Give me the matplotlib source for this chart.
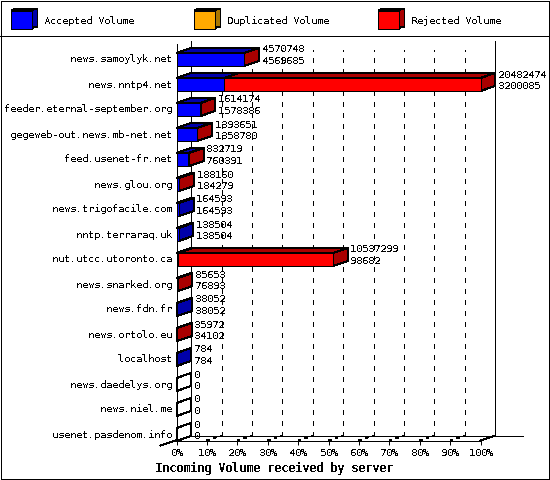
import matplotlib
matplotlib.use("Agg")
import matplotlib.pyplot as plt
from matplotlib.patches import Polygon, Rectangle
from matplotlib.transforms import ScaledTranslation

servers = ["news.samoylyk.net", "news.nntp4.net", "feeder.eternal-september.org",
           "gegeweb-out.news.mb-net.net", "feed.usenet-fr.net", "news.glou.org",
           "news.trigofacile.com", "nntp.terraraq.uk", "nut.utcc.utoronto.ca",
           "news.snarked.org", "news.fdn.fr", "news.ortolo.eu", "localhost",
           "news.daedelys.org", "news.niel.me", "usenet.pasdenom.info"]
total = [4570748, 20482474, 1614174, 1393651, 832719, 188160, 164593, 138504,
         10537299, 85653, 38052, 35972, 784, 0, 0, 0]
accepted = [4569685, 3200085, 1578386, 1358780, 760391, 184279, 164593, 138504,
            98682, 76893, 38052, 34102, 784, 0, 0, 0]
legend_names = ["Accepted Volume", "Duplicated Volume", "Rejected Volume"]
x_ticks = [0, 10, 20, 30, 40, 50, 60, 70, 80, 90, 100]
title = "Incoming Volume received by server"

BLUE, DBLUE = "#0000ff", "#0000aa"
ORANGE, DORANGE = "#ffaa00", "#aa7700"
RED, DRED = "#ff0000", "#aa0000"
FONT = "DejaVu Sans Mono"
plt.rcParams["text.antialiased"] = False
plt.rcParams["text.hinting"] = "native"
plt.rcParams["text.hinting_factor"] = 1
plt.rcParams["font.family"] = FONT
LW = 0.72
FS = 7.2

W, H = 550, 480
fig = plt.figure(figsize=(5.5, 4.8), dpi=100, facecolor="white")

# pixel overlay for frame and legend
pix = fig.add_axes([0, 0, 1, 1], zorder=0)
pix.set_xlim(0, W); pix.set_ylim(H, 0); pix.axis("off")
pix.add_patch(Rectangle((0.5, 0.5), W - 1.5, H - 1.5, fc="white", ec="black", lw=LW, antialiased=False))
pix.plot([0, W], [35.5, 35.5], color="black", lw=LW, antialiased=False)
for x0, name, front, side in zip([10.5, 193.5, 377.5], legend_names,
                                 [BLUE, ORANGE, RED], [DBLUE, DORANGE, DRED]):
    pix.add_patch(Polygon([(x0 + 1, 10), (x0 + 7, 8.5), (x0 + 27, 8.5), (x0 + 21, 10)],
                          fc=side, ec="black", lw=LW, antialiased=False))
    pix.add_patch(Polygon([(x0 + 21, 10), (x0 + 27, 8.5), (x0 + 27, 26.5), (x0 + 21, 28)],
                          fc=side, ec="black", lw=LW, antialiased=False))
    pix.add_patch(Rectangle((x0, 10.5), 21, 18, fc=front, ec="black", lw=LW, antialiased=False))
    pix.text(x0 + 33.5, 21, name, fontsize=FS, va="center", ha="left", color="black")

# chart axes: front plane, 0-100 % and one row per server
PL, PR, PT, PB = 176.6, 480.6, 41.0, 440.5
ax = fig.add_axes([PL / W, 1 - PB / H, (PR - PL) / W, (PB - PT) / H], zorder=1)
ax.patch.set_alpha(0)
ax.set_xlim(0, 100)
ax.set_ylim((PB - 59.5) / 25, (PT - 59.5) / 25)
for s in ax.spines.values():
    s.set_visible(False)

DX = 14.6 * 100 / (PR - PL)
DY = -5.0 / 25
HALF = 6.5 / 25
kw = dict(ec="black", lw=LW, antialiased=False, clip_on=False)
line = dict(color="black", lw=LW, antialiased=False, clip_on=False)
ymin, ymax = ax.get_ylim()
maxv = max(total)
floor_back = ymin + DY

# back wall and floor
for pct in x_ticks:
    solid = pct in (0, 100)
    top = ymax if solid else ymax + 0.36
    ax.plot([pct + DX] * 2, [floor_back, top], ls="-" if solid else (0, (5, 6)), zorder=1, **line)
    if 0 < pct < 100:
        ax.plot([pct, pct + DX], [ymin, floor_back], ls=(0, (2.5, 5)), zorder=1, **line)
ax.plot([0, 0], [ymin, ymax + 0.12], zorder=2, **line)
ax.plot([0, 100], [ymin, ymin], zorder=1, **line)
ax.plot([100, 100 + DX], [ymin, floor_back], zorder=1, **line)
ax.plot([-5.3, DX], [ymin + 0.2, floor_back], zorder=1, **line)
ax.plot([DX, 114.0], [floor_back, floor_back], zorder=1, **line)

# 3D bars
for i, (t, a) in enumerate(zip(total, accepted)):
    tp = 100 * t / maxv
    ap = 100 * a / maxv
    t_, b_ = i - HALF, i + HALF
    rejected = t > a
    if t > 0:
        if ap > 0:
            ax.add_patch(Polygon([(0, t_), (DX, t_ + DY), (ap + DX, t_ + DY), (ap, t_)],
                                 fc=DBLUE, zorder=3, **kw))
        if rejected:
            ax.add_patch(Polygon([(ap, t_), (ap + DX, t_ + DY), (tp + DX, t_ + DY), (tp, t_)],
                                 fc=DRED, zorder=3, **kw))
    side = DRED if rejected else (DBLUE if t > 0 else "white")
    ax.add_patch(Polygon([(tp, t_), (tp + DX, t_ + DY), (tp + DX, b_ + DY), (tp, b_)],
                         fc=side, zorder=3, **kw))
    if a > 0:
        ax.barh(i, ap, height=2 * HALF, color=BLUE, edgecolor="black", lw=LW, antialiased=False, zorder=4)
    if rejected:
        ax.barh(i, tp - ap, left=ap, height=2 * HALF, color=RED, edgecolor="black", lw=LW, antialiased=False, zorder=4)
    tx = tp + DX + 0.9
    ax.text(tx, i - 0.40, str(t), fontsize=FS, va="center", ha="left", color="black", zorder=5, clip_on=False)
    ax.text(tx, i + 0.07, str(a), fontsize=FS, va="center", ha="left", color="black", zorder=5, clip_on=False)

ax.set_yticks(range(len(servers)), servers, fontsize=FS)
ax.set_xticks(x_ticks, [f"{p}%" for p in x_ticks], fontsize=FS)
ax.tick_params(axis="y", length=0, pad=3.4)
ax.tick_params(axis="x", length=3, width=LW, pad=2.4)
up = ScaledTranslation(0, 1 / 100, fig.dpi_scale_trans)
for lab in ax.get_yticklabels():
    lab.set_transform(lab.get_transform() + up)
ax.set_xlabel(title, fontsize=8.4, fontweight="bold")
ax.xaxis.set_label_coords((274 - PL) / (PR - PL), -0.055)

fig.savefig("out.png", dpi=100, facecolor="white")
